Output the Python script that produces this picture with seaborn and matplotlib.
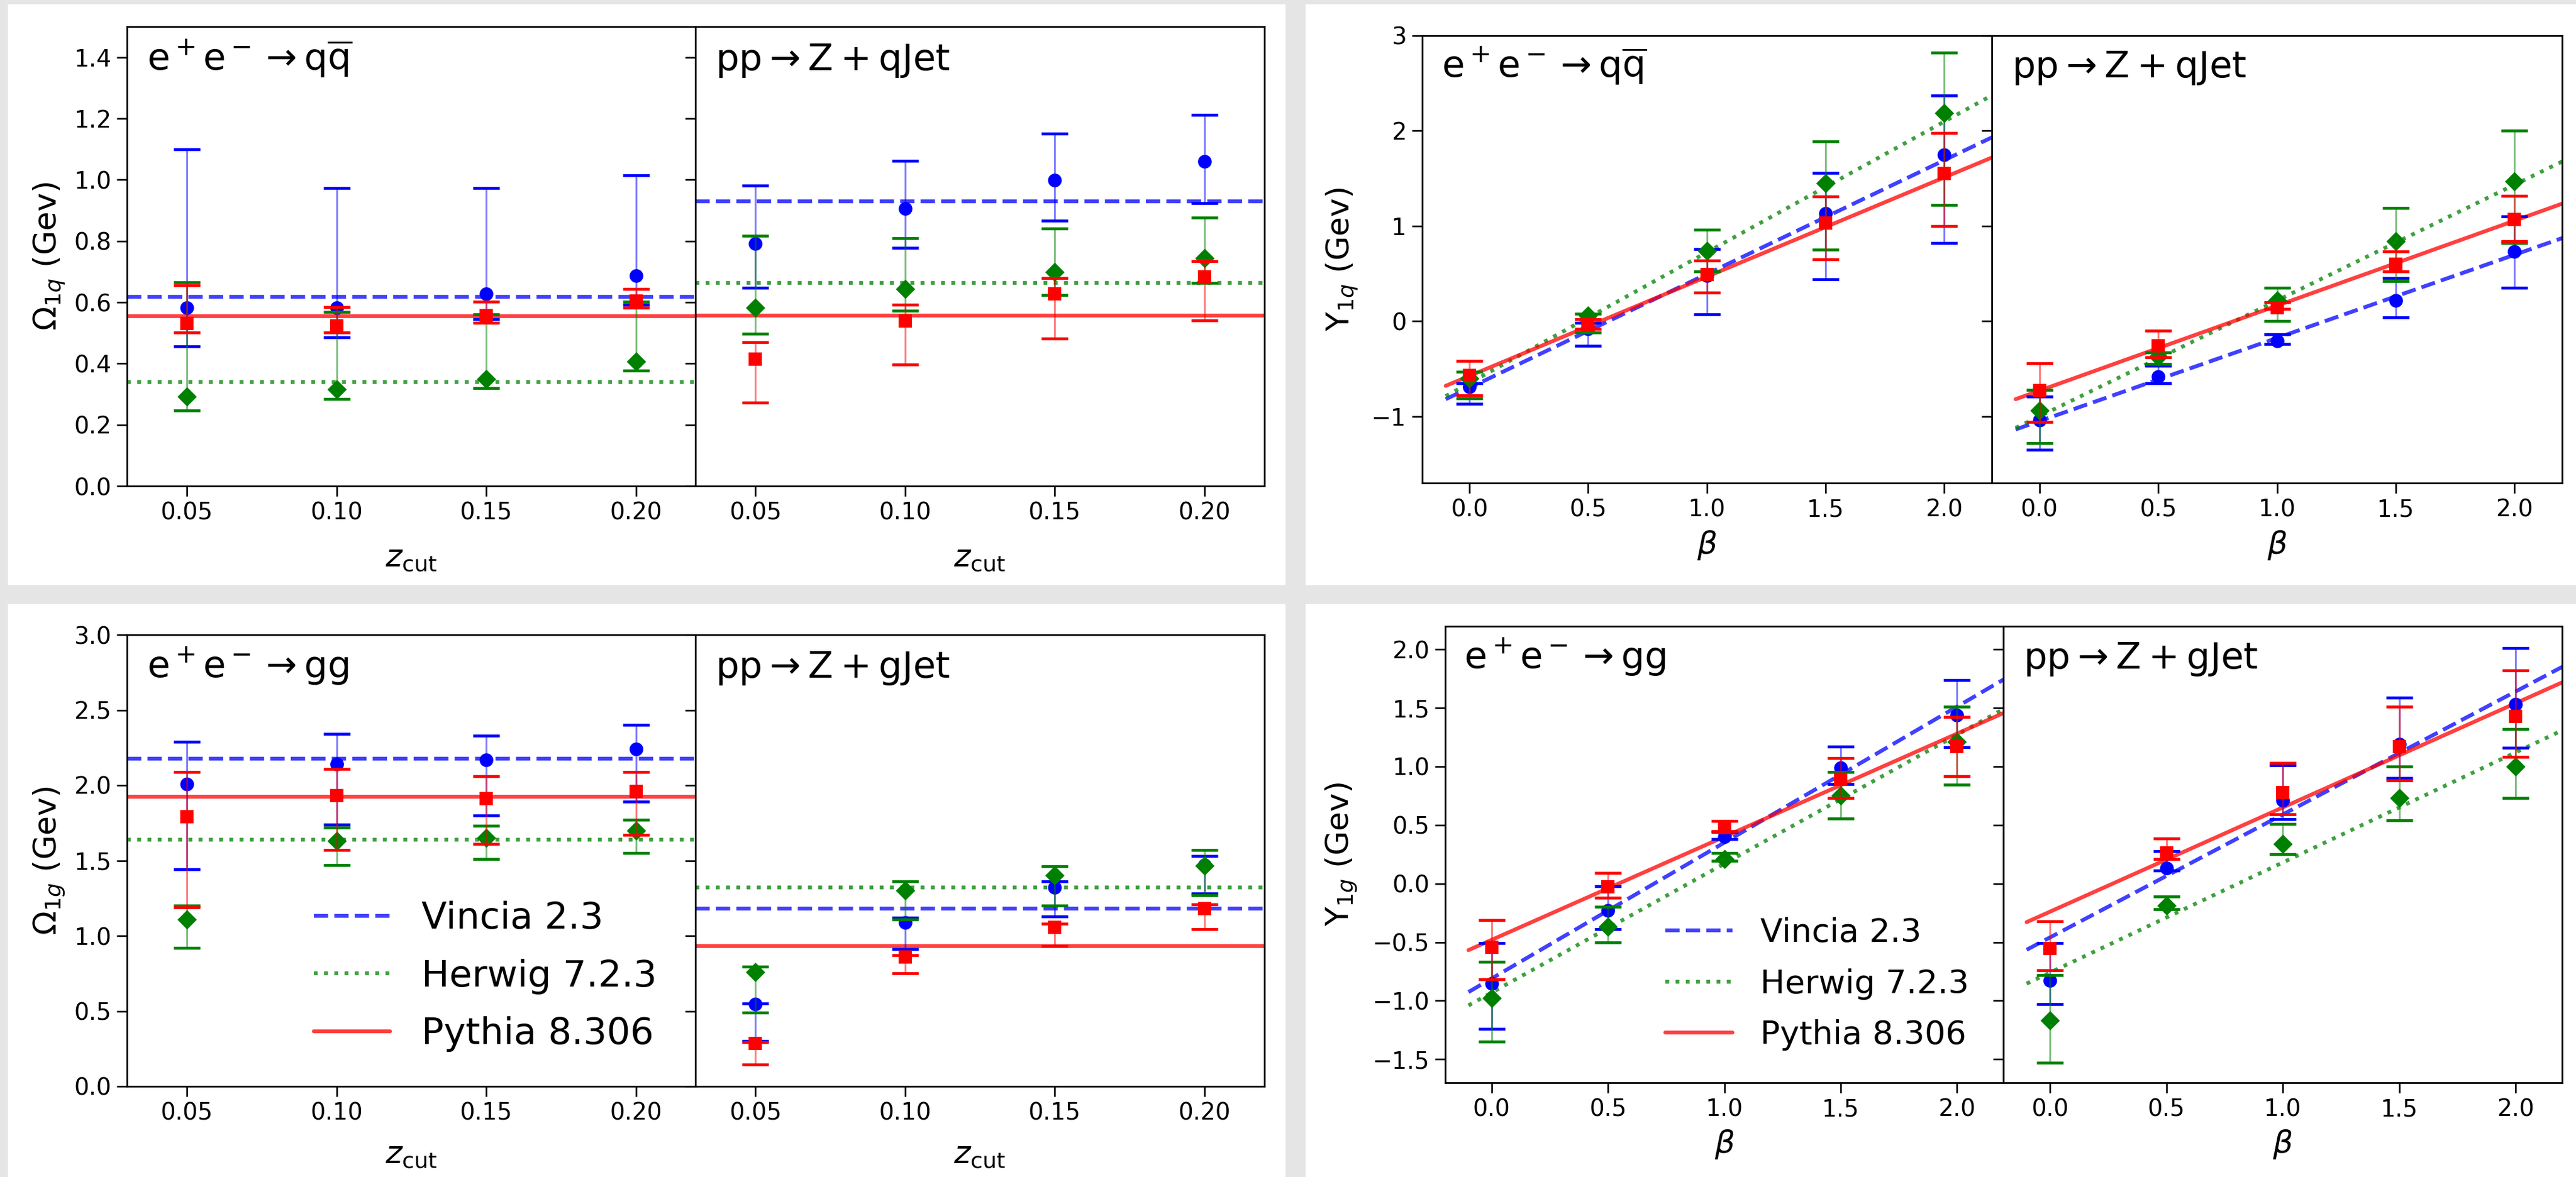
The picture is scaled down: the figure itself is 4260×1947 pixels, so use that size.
import matplotlib
matplotlib.use("Agg")
import matplotlib.pyplot as plt
from matplotlib.lines import Line2D
from matplotlib.patches import Rectangle
import numpy as np
import pandas as pd
import seaborn as sns

# ---------------------------------------------------------------- data
zcut = [0.05, 0.10, 0.15, 0.20]
beta = [0.0, 0.5, 1.0, 1.5, 2.0]
generators = ["Vincia 2.3", "Herwig 7.2.3", "Pythia 8.306"]
zcut_ticklabels = ["0.05", "0.10", "0.15", "0.20"]
beta_ticklabels = ["0.0", "0.5", "1.0", "1.5", "2.0"]

# rows: Vincia, Herwig, Pythia ; lo / hi are the ends of the error bars
# Omega_1q vs z_cut, e+e- -> q qbar
om1q_ee_val = [[0.582, 0.582, 0.627, 0.687], [0.292, 0.315, 0.350, 0.406], [0.530, 0.524, 0.556, 0.604]]
om1q_ee_lo = [[0.455, 0.486, 0.545, 0.592], [0.247, 0.284, 0.319, 0.376], [0.501, 0.501, 0.533, 0.582]]
om1q_ee_hi = [[1.099, 0.973, 0.974, 1.015], [0.666, 0.569, 0.560, 0.601], [0.656, 0.585, 0.601, 0.644]]
om1q_ee_fit = [0.618, 0.340, 0.555]

# Omega_1q vs z_cut, pp -> Z + q jet
om1q_pp_val = [[0.792, 0.905, 0.998, 1.060], [0.582, 0.643, 0.699, 0.744], [0.414, 0.539, 0.627, 0.683]]
om1q_pp_lo = [[0.648, 0.777, 0.866, 0.923], [0.497, 0.572, 0.623, 0.664], [0.273, 0.396, 0.482, 0.540]]
om1q_pp_hi = [[0.981, 1.062, 1.150, 1.211], [0.818, 0.809, 0.840, 0.876], [0.470, 0.593, 0.678, 0.734]]
om1q_pp_fit = [0.930, 0.664, 0.557]

# Omega_1g vs z_cut, e+e- -> g g
om1g_ee_val = [[2.01, 2.14, 2.17, 2.24], [1.11, 1.63, 1.65, 1.70], [1.79, 1.93, 1.91, 1.96]]
om1g_ee_lo = [[1.44, 1.74, 1.80, 1.89], [0.92, 1.47, 1.51, 1.55], [1.19, 1.57, 1.61, 1.67]]
om1g_ee_hi = [[2.29, 2.34, 2.33, 2.40], [1.20, 1.72, 1.73, 1.77], [2.09, 2.11, 2.06, 2.09]]
om1g_ee_fit = [2.175, 1.64, 1.925]

# Omega_1g vs z_cut, pp -> Z + g jet
om1g_pp_val = [[0.547, 1.09, 1.32, 1.47], [0.759, 1.30, 1.40, 1.465], [0.286, 0.86, 1.055, 1.18]]
om1g_pp_lo = [[0.302, 0.91, 1.13, 1.28], [0.49, 1.11, 1.20, 1.27], [0.146, 0.75, 0.93, 1.045]]
om1g_pp_hi = [[0.552, 1.12, 1.36, 1.53], [0.796, 1.36, 1.46, 1.57], [0.292, 0.87, 1.08, 1.21]]
om1g_pp_fit = [1.18, 1.32, 0.93]

# Upsilon_1q vs beta, e+e- -> q qbar
up1q_ee_val = [[-0.69, -0.08, 0.48, 1.13, 1.75], [-0.60, 0.06, 0.74, 1.45, 2.19], [-0.57, -0.04, 0.49, 1.03, 1.55]]
up1q_ee_lo = [[-0.87, -0.26, 0.07, 0.44, 0.82], [-0.81, -0.12, 0.52, 0.75, 1.22], [-0.78, -0.08, 0.30, 0.65, 1.00]]
up1q_ee_hi = [[-0.65, -0.02, 0.76, 1.56, 2.37], [-0.53, 0.08, 0.96, 1.89, 2.82], [-0.42, 0.02, 0.64, 1.31, 1.98]]
up1q_ee_icpt = [-0.70, -0.65, -0.575]
up1q_ee_slope = [1.196, 1.374, 1.043]

# Upsilon_1q vs beta, pp -> Z + q jet
up1q_pp_val = [[-1.04, -0.58, -0.21, 0.22, 0.73], [-0.94, -0.37, 0.22, 0.84, 1.47], [-0.73, -0.26, 0.14, 0.60, 1.07]]
up1q_pp_lo = [[-1.35, -0.65, -0.24, 0.04, 0.35], [-1.28, -0.45, 0.00, 0.42, 0.82], [-1.06, -0.38, 0.13, 0.52, 0.84]]
up1q_pp_hi = [[-0.79, -0.47, -0.14, 0.45, 1.10], [-0.72, -0.33, 0.35, 1.19, 2.00], [-0.44, -0.10, 0.20, 0.73, 1.32]]
up1q_pp_icpt = [-1.05, -1.00, -0.73]
up1q_pp_slope = [0.874, 1.217, 0.893]

# Upsilon_1g vs beta, e+e- -> g g
up1g_ee_val = [[-0.854, -0.23, 0.40, 0.99, 1.44], [-0.977, -0.37, 0.21, 0.75, 1.21], [-0.545, -0.03, 0.48, 0.89, 1.17]]
up1g_ee_lo = [[-1.24, -0.39, 0.38, 0.85, 1.165], [-1.35, -0.50, 0.195, 0.555, 0.845], [-0.815, -0.12, 0.445, 0.73, 0.915]]
up1g_ee_hi = [[-0.51, -0.02, 0.44, 1.17, 1.74], [-0.665, -0.20, 0.26, 0.955, 1.51], [-0.31, 0.09, 0.535, 1.07, 1.425]]
up1g_ee_icpt = [-0.81, -0.93, -0.48]
up1g_ee_slope = [1.16, 1.10, 0.88]

# Upsilon_1g vs beta, pp -> Z + g jet
up1g_pp_val = [[-0.83, 0.13, 0.71, 1.19, 1.53], [-1.17, -0.19, 0.34, 0.73, 1.00], [-0.555, 0.26, 0.78, 1.17, 1.43]]
up1g_pp_lo = [[-1.03, 0.11, 0.55, 0.90, 1.16], [-1.53, -0.22, 0.25, 0.54, 0.73], [-0.74, 0.21, 0.59, 0.88, 1.08]]
up1g_pp_hi = [[-0.51, 0.276, 1.01, 1.59, 2.01], [-0.78, -0.11, 0.51, 1.00, 1.32], [-0.32, 0.386, 1.03, 1.51, 1.82]]
up1g_pp_icpt = [-0.46, -0.76, -0.24]
up1g_pp_slope = [1.05, 0.94, 0.89]

# ---------------------------------------------------------------- style
sns.set_theme(style="ticks", rc={
    "axes.edgecolor": "black", "axes.labelcolor": "black", "text.color": "black",
    "xtick.color": "black", "ytick.color": "black", "axes.facecolor": "white",
})
plt.rcParams["font.family"] = ["DejaVu Sans"]
plt.rcParams["mathtext.fontset"] = "dejavusans"
plt.rcParams["axes.unicode_minus"] = True

COLORS = ["blue", "green", "red"]
MARKERS = ["o", "D", "s"]
LINESTYLES = ["--", ":", "-"]
MS = 16.3          # marker size (pt)
LW = 4.6           # fit line width (pt)
LINE_ALPHA = 0.75

TICK_FS = 28
LABEL_FS = 37.5
TITLE_FS = 44

W, H, DPI = 4260, 1947, 100
fig = plt.figure(figsize=(W / DPI, H / DPI), dpi=DPI, facecolor="#e5e5e5")


def card(x0, y0, x1, y1):
    fig.add_artist(Rectangle((x0 / W, 1 - y1 / H), (x1 - x0) / W, (y1 - y0) / H,
                             transform=fig.transFigure, facecolor="white",
                             edgecolor="none", zorder=-10))


def px_axes(l, t, r, b):
    ax = fig.add_axes([l / W, 1 - b / H, (r - l) / W, (b - t) / H])
    ax._px = (r - l, b - t)
    return ax


def draw_points(ax, x, vals, los, his):
    for i in range(3):
        v = np.asarray(vals[i], float)
        lo = np.asarray(los[i], float)
        hi = np.asarray(his[i], float)
        eb = ax.errorbar(x, v, yerr=[v - lo, hi - v], fmt="none", ecolor=COLORS[i],
                         elinewidth=2.2, capsize=15.5, capthick=3.4, zorder=3 + 2 * i)
        eb[2][0].set_alpha(0.5)
        df = pd.DataFrame({"x": x, "y": v})
        sns.scatterplot(data=df, x="x", y="y", ax=ax, color=COLORS[i], marker=MARKERS[i],
                        s=MS ** 2, linewidth=0, zorder=4 + 2 * i, legend=False)


def draw_flat(ax, fit):
    for i in range(3):
        ax.axhline(fit[i], color=COLORS[i], linestyle=LINESTYLES[i], lw=LW,
                   alpha=LINE_ALPHA, zorder=2)


def draw_slopes(ax, icpt, slope):
    xs = np.array([-0.1, 2.3])
    for i in range(3):
        sns.lineplot(x=xs, y=icpt[i] + slope[i] * xs, ax=ax, color=COLORS[i],
                     linestyle=LINESTYLES[i], lw=LW, alpha=LINE_ALPHA, zorder=2)


def style_axes(ax, xticks, xticklabels, xlim, ylim, yticks, xlabel, xlab_px,
               ylabel=None, ylab_px=None, show_ylabels=True):
    w, h = ax._px
    ax.set_xlim(*xlim)
    ax.set_ylim(*ylim)
    ax.set_xticks(xticks)
    ax.set_xticklabels(xticklabels)
    ax.set_yticks(yticks)
    ax.tick_params(axis="both", direction="out", length=12.5, width=1.9,
                   labelsize=TICK_FS, pad=6, left=True, bottom=True,
                   right=False, top=False, labelleft=show_ylabels)
    for sp in ax.spines.values():
        sp.set_visible(True)
        sp.set_linewidth(2.0)
        sp.set_color("black")
    ax.set_xlabel(xlabel, fontsize=LABEL_FS)
    ax.xaxis.set_label_coords(0.5, -xlab_px / h)
    ax.xaxis.label.set_verticalalignment("top")
    if ylabel is not None:
        ax.set_ylabel(ylabel, fontsize=LABEL_FS)
        ax.yaxis.set_label_coords(-ylab_px / w, 0.5)
    else:
        ax.set_ylabel("")


def panel_title(ax, text, dx_px, dy_px):
    w, h = ax._px
    ax.text(dx_px / w, 1 - dy_px / h, text, transform=ax.transAxes,
            fontsize=TITLE_FS, ha="left", va="baseline", zorder=20)


def legend_handles():
    return [Line2D([0], [0], color=COLORS[i], linestyle=LINESTYLES[i], lw=LW,
                   alpha=LINE_ALPHA) for i in range(3)]


# ---------------------------------------------------------------- cards
card(13, 7, 2126, 968)
card(2159, 7, W, 968)
card(13, 999, 2126, H)
card(2159, 999, W, H)

Z_XLIM = (0.03, 0.22)
B_XLIM = (-0.2, 2.2)
ZLAB = r"$z_{\mathrm{cut}}$"
BLAB = r"$\beta$"
T_EE_Q = r"$\mathrm{e^+e^-\rightarrow q\overline{q}}$"
T_PP_Q = r"$\mathrm{pp\rightarrow Z+qJet}$"
T_EE_G = r"$\mathrm{e^+e^-\rightarrow gg}$"
T_PP_G = r"$\mathrm{pp\rightarrow Z+gJet}$"

# ---- top left: Omega_1q
yt = np.arange(0, 1.41, 0.2)
ax = px_axes(210, 44, 1150.5, 804)
draw_flat(ax, om1q_ee_fit)
draw_points(ax, zcut, om1q_ee_val, om1q_ee_lo, om1q_ee_hi)
style_axes(ax, zcut, zcut_ticklabels, Z_XLIM, (0, 1.5), yt, ZLAB, 94,
           r"$\Omega_{1q}$ (Gev)", 100)
panel_title(ax, T_EE_Q, 33, 72)

ax = px_axes(1150.5, 44, 2090.5, 804)
draw_flat(ax, om1q_pp_fit)
draw_points(ax, zcut, om1q_pp_val, om1q_pp_lo, om1q_pp_hi)
style_axes(ax, zcut, zcut_ticklabels, Z_XLIM, (0, 1.5), yt, ZLAB, 94, show_ylabels=False)
panel_title(ax, T_PP_Q, 33, 72)

# ---- top right: Upsilon_1q
yt = np.arange(-1, 3.01, 1)
ax = px_axes(2351.5, 59, 3294, 799)
draw_slopes(ax, up1q_ee_icpt, up1q_ee_slope)
draw_points(ax, beta, up1q_ee_val, up1q_ee_lo, up1q_ee_hi)
style_axes(ax, beta, beta_ticklabels, B_XLIM, (-1.7, 3.0), yt, BLAB, 76,
           r"$\Upsilon_{1q}$ (Gev)", 104)
panel_title(ax, T_EE_Q, 33, 69)

ax = px_axes(3294, 59, 4237, 799)
draw_slopes(ax, up1q_pp_icpt, up1q_pp_slope)
draw_points(ax, beta, up1q_pp_val, up1q_pp_lo, up1q_pp_hi)
style_axes(ax, beta, beta_ticklabels, B_XLIM, (-1.7, 3.0), yt, BLAB, 76, show_ylabels=False)
panel_title(ax, T_PP_Q, 33, 69)

# ---- bottom left: Omega_1g
yt = np.arange(0, 3.01, 0.5)
ax = px_axes(210, 1050, 1150.5, 1797)
draw_flat(ax, om1g_ee_fit)
draw_points(ax, zcut, om1g_ee_val, om1g_ee_lo, om1g_ee_hi)
style_axes(ax, zcut, zcut_ticklabels, Z_XLIM, (0, 3.0), yt, ZLAB, 88,
           r"$\Omega_{1g}$ (Gev)", 100)
panel_title(ax, T_EE_G, 33, 70.5)
ax.legend(legend_handles(), generators, loc="lower left", frameon=False,
          bbox_to_anchor=(0.303, 0.043), borderaxespad=0, fontsize=44,
          handlelength=2.05, handletextpad=0.85, labelspacing=0.6)

ax = px_axes(1150.5, 1050, 2090.5, 1797)
draw_flat(ax, om1g_pp_fit)
draw_points(ax, zcut, om1g_pp_val, om1g_pp_lo, om1g_pp_hi)
style_axes(ax, zcut, zcut_ticklabels, Z_XLIM, (0, 3.0), yt, ZLAB, 88, show_ylabels=False)
panel_title(ax, T_PP_G, 33, 70.5)

# ---- bottom right: Upsilon_1g
yt = np.arange(-1.5, 2.01, 0.5)
ax = px_axes(2390, 1035.5, 3313, 1791)
draw_slopes(ax, up1g_ee_icpt, up1g_ee_slope)
draw_points(ax, beta, up1g_ee_val, up1g_ee_lo, up1g_ee_hi)
style_axes(ax, beta, beta_ticklabels, B_XLIM, (-1.7, 2.2), yt, BLAB, 75,
           r"$\Upsilon_{1g}$ (Gev)", 143)
panel_title(ax, T_EE_G, 31, 70.5)
ax.legend(legend_handles(), generators, loc="lower left", frameon=False,
          bbox_to_anchor=(0.371, 0.041), borderaxespad=0, fontsize=39,
          handlelength=2.05, handletextpad=0.85, labelspacing=0.6)

ax = px_axes(3313, 1035.5, 4237, 1791)
draw_slopes(ax, up1g_pp_icpt, up1g_pp_slope)
draw_points(ax, beta, up1g_pp_val, up1g_pp_lo, up1g_pp_hi)
style_axes(ax, beta, beta_ticklabels, B_XLIM, (-1.7, 2.2), yt, BLAB, 75, show_ylabels=False)
panel_title(ax, T_PP_G, 33, 70.5)

fig.savefig("out.png", dpi=DPI, facecolor=fig.get_facecolor())
